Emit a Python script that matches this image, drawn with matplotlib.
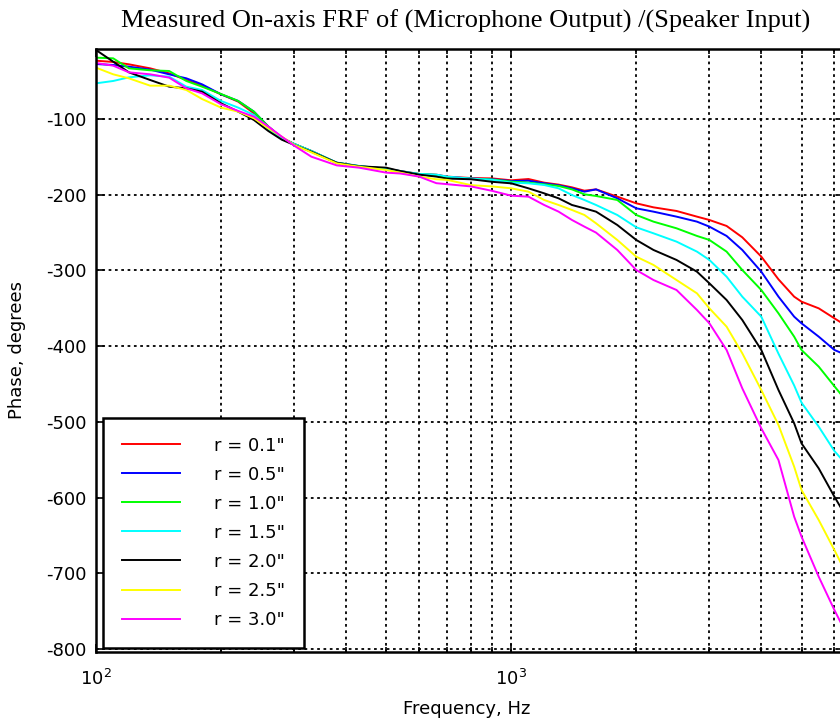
import matplotlib
matplotlib.use("Agg")
import matplotlib.pyplot as plt
from matplotlib.ticker import LogLocator, NullFormatter, MultipleLocator

# Frequency points (Hz) shared by every radius
freq = [100, 110, 120, 135, 150, 165, 180, 200, 220, 240, 260, 280, 300, 330,
        380, 430, 500, 540, 600, 660, 700, 800, 900,
        1000, 1100, 1200, 1300, 1400, 1500, 1600, 1800, 2000, 2200, 2500, 2800,
        3000, 3300, 3600, 4000, 4400, 4800, 5000, 5500, 6000, 6400]

# Phase (degrees) for each microphone radius
phase_r01 = [-23, -24.7, -27.8, -33.1, -39.7, -48.5, -56, -67.4, -77.1, -92.5, -110, -124.7, -133, -142.3,
             -157.8, -162.2, -165.7, -168.7, -172.6, -173.5, -176.1, -178, -178.5,
             -181, -179.3, -184.1, -186.7, -190.3, -194.7, -193, -202.6, -211.4, -216.7, -221.5, -229,
             -233.4, -241.3, -256.3, -281.8, -311.8, -334.7, -341.3, -350.1, -363.3, -373]
phase_r05 = [-27.4, -28.7, -30.9, -34.8, -41, -46.3, -54.2, -67.4, -76.2, -90.3, -110, -124.7, -133, -142.3,
             -158, -162.5, -166, -169, -173, -174, -176.5, -178.7, -179.6,
             -182, -181.5, -185, -187.6, -191.6, -196, -193, -204.8, -218, -222.4, -229, -235.6,
             -242.2, -254.5, -273, -301.7, -334.7, -361.1, -369.9, -387.5, -405.1, -411.7]
phase_r10 = [-19, -19.9, -33.1, -35.7, -36.6, -49.8, -57.3, -67, -76.2, -90.3, -110, -125.5, -133, -142.3,
             -158.2, -162.2, -166.5, -169.5, -172.6, -174, -177.4, -179, -180,
             -182.8, -184.1, -186.3, -188.5, -193, -199.5, -201.7, -207, -226.8, -235.6, -244.4, -254.5,
             -259.8, -275.2, -299.5, -325.9, -356.7, -387.5, -405.1, -427.1, -453, -472]
phase_r15 = [-52.9, -49.8, -45, -42.3, -44.1, -57.3, -61.7, -76.2, -85, -94.7, -113.2, -125.5, -133, -142.3,
             -157.5, -162, -165.7, -168.7, -172.6, -173.5, -176.1, -178.7, -180.4,
             -184, -185, -187.2, -191.6, -200.4, -207, -213.6, -226.8, -243.1, -251, -262, -275.2,
             -286.2, -308.3, -334.7, -361.1, -410, -452, -474.7, -506.4, -538.6, -556]
phase_r20 = [-8.9, -24.3, -38.4, -48.5, -57.3, -59.5, -63.9, -79.3, -90.3, -101.3, -115.9, -127.3, -134.3, -143.2,
             -157.8, -162.5, -164.3, -168.7, -173.5, -176.1, -178.7, -179.6, -183,
             -185, -191.6, -198.2, -204.8, -213.6, -218, -222.4, -240, -259.8, -273, -286.2, -301.7,
             -317.1, -339.1, -365.5, -405.1, -458, -502, -528.5, -561.5, -598.9, -625]
phase_r25 = [-32.2, -41, -46.3, -56, -56, -61.7, -73.6, -85, -90.3, -99, -112.3, -123.3, -134.3, -144,
             -158.7, -163, -167.4, -170.9, -176.1, -179.6, -180.4, -187.4, -189.1,
             -191.6, -196, -207, -213.6, -220.2, -226.8, -237.8, -259.8, -281.9, -292.8, -312.7, -330.3,
             -350.1, -374.3, -409.5, -458, -504.2, -559.3, -590.1, -629.7, -669.4, -700]
phase_r30 = [-26, -29.6, -38.4, -41, -45.4, -59.5, -66.1, -80.6, -89.4, -96.9, -110, -123.3, -135.2, -149.8,
             -161.3, -164.3, -170.9, -172, -176.1, -184.8, -186.1, -189.1, -195,
             -201.3, -202.6, -213.6, -222.4, -233.4, -242.2, -250.1, -273, -299.5, -312.7, -325.9, -352.3,
             -369.9, -405.1, -455.8, -508.6, -550.5, -625.3, -651.7, -704.6, -748.6, -779]

series = [phase_r01, phase_r05, phase_r10, phase_r15, phase_r20, phase_r25, phase_r30]
labels = ['r = 0.1"', 'r = 0.5"', 'r = 1.0"', 'r = 1.5"', 'r = 2.0"', 'r = 2.5"', 'r = 3.0"']
colors = ['#ff0000', '#0000ff', '#00ff00', '#00ffff', '#000000', '#ffff00', '#ff00ff']

plt.rcParams['font.family'] = 'DejaVu Sans'
plt.rcParams['axes.unicode_minus'] = False

fig = plt.figure(figsize=(8.4, 7.22), dpi=100)
ax = fig.add_axes([0.1143, 0.0970, 0.8929, 0.8352])

for y, lab, c in zip(series, labels, colors):
    ax.plot(freq, y, color=c, lw=1.4, label=lab)

ax.set_xscale('log')
ax.set_xlim(100, 6400)
ax.set_ylim(-804, -7.5)
ax.yaxis.set_major_locator(MultipleLocator(100))
ax.xaxis.set_major_locator(LogLocator(base=10))
ax.xaxis.set_minor_locator(LogLocator(base=10, subs=range(2, 10)))
ax.xaxis.set_minor_formatter(NullFormatter())

# dotted grid on decades, sub-decades and every 100 degrees
dots = dict(color='black', linestyle=(0, (1.5, 2.0)), linewidth=1.3)
ax.grid(True, which='major', axis='both', **dots)
ax.grid(True, which='minor', axis='x', **dots)

ax.tick_params(which='both', direction='in', top=True, right=True,
               labelsize=13, width=1.2, pad=7)
ax.tick_params(axis='x', which='major', pad=12)
ax.tick_params(which='major', length=6)
ax.tick_params(which='minor', length=3.5)
for s in ax.spines.values():
    s.set_linewidth(1.8)

ax.set_xlabel('Frequency, Hz', fontsize=13)
ax.xaxis.set_label_coords(0.4947, -0.079)
ax.set_ylabel('Phase, degrees', fontsize=13)
ax.yaxis.set_label_coords(-0.093, 0.5)

fig.text(466 / 840, 1 - 21 / 722, 'Measured On-axis FRF of (Microphone Output) /(Speaker Input)',
         ha='center', va='center', fontsize=19, family='Liberation Serif')

leg = ax.legend(loc='lower left', bbox_to_anchor=(0.0093, 0.0066), borderaxespad=0,
                fontsize=13, handlelength=3.2, handletextpad=1.9, labelspacing=0.61,
                borderpad=1.06, fancybox=False, framealpha=1, edgecolor='black')
leg.get_frame().set_linewidth(1.8)

fig.savefig('out.png', dpi=100)
